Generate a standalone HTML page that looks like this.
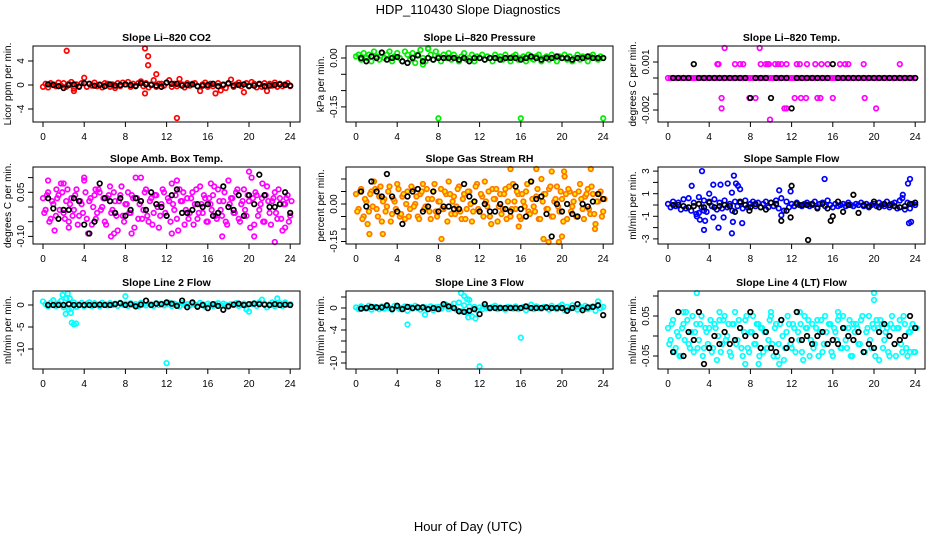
<!DOCTYPE html>
<html><head><meta charset="utf-8">
<style>
body{margin:0;background:#fff;}
svg{display:block;font-family:"Liberation Sans",Helvetica,sans-serif;}
</style></head>
<body>
<svg id="chart" width="936" height="540" viewBox="0 0 936 540" xmlns="http://www.w3.org/2000/svg">
<rect width="936" height="540" fill="#fff"/>
<text x="468" y="14" text-anchor="middle" font-size="13">HDP_110430  Slope Diagnostics</text>
<text x="468" y="531" text-anchor="middle" font-size="13">Hour of Day (UTC)</text>
<g id="panels"></g>
</svg>
<script>
const hoursC=[0,0.25,0.5,0.75,1,1.25,1.5,1.75,2,2.25,2.5,2.75,3,3.25,3.5,3.75,4,4.25,4.5,4.75,5,5.25,5.5,5.75,6,6.25,6.5,6.75,7,7.25,7.5,7.75,8,8.25,8.5,8.75,9,9.25,9.5,9.75,10,10.25,10.5,10.75,11,11.25,11.5,11.75,12,12.25,12.5,12.75,13,13.25,13.5,13.75,14,14.25,14.5,14.75,15,15.25,15.5,15.75,16,16.25,16.5,16.75,17,17.25,17.5,17.75,18,18.25,18.5,18.75,19,19.25,19.5,19.75,20,20.25,20.5,20.75,21,21.25,21.5,21.75,22,22.25,22.5,22.75,23,23.25,23.5,23.75,24];
const hoursB=[0.5,1,1.5,2,2.5,3,3.5,4,4.5,5,5.5,6,6.5,7,7.5,8,8.5,9,9.5,10,10.5,11,11.5,12,12.5,13,13.5,14,14.5,15,15.5,16,16.5,17,17.5,18,18.5,19,19.5,20,20.5,21,21.5,22,22.5,23,23.5,24];
const xTicks=[0,4,8,12,16,20,24];

// Panel 1: CO2
const co2Col=[-0.3,0.2,-0.4,0.3,0.1,-0.2,0.4,-0.1,0.3,-0.3,0.2,0.5,-0.6,0.1,-0.2,0.3,1.2,-0.3,0.2,-0.1,0.4,-0.2,0.1,-0.4,0.3,0.2,-0.3,0.1,-0.5,0.3,-0.2,0.4,0.1,0.5,-0.3,0.2,-0.1,0.3,0.6,-0.2,0.3,-0.4,0.1,0.8,-0.3,0.2,0.2,-0.1,0.4,0.8,-0.3,0.2,-0.2,1.0,0.1,-0.4,0.3,-0.1,0.2,0.3,-0.2,-1.0,0.1,0.4,-0.3,0.2,-0.2,-1.4,0.3,-0.9,0.1,-0.5,0.2,0.9,-0.3,0.1,0.4,-0.2,-1.2,0.3,-0.1,0.5,0.2,-0.4,0.1,-0.3,0.3,-1.0,0.2,-0.1,0.4,-0.3,0.2,-0.2,0.1,0.3,-0.2];
const co2OutH=[2.3,9.9,10.2,10.2,9.9,13.0,11.0,3.0];
const co2OutV=[5.7,6.1,4.8,3.3,-1.4,-5.5,1.8,-1.0];
const co2Blk=[0.1,0,-0.2,-0.5,0,0.1,-0.3,0.3,0.2,-0.1,0,-0.2,0.1,-0.1,0,0.1,0,-0.2,0.3,0.1,0,-0.1,-0.3,0.4,0.2,0.2,-0.1,0,0.1,-0.2,-0.1,0,0.2,-0.2,0,0.3,-0.1,0,0.1,-0.2,-0.1,0.2,-0.2,-0.1,0,0.1,0,-0.1];

// Panel 2: Pressure
const presCol=[0.005,0.01,-0.005,0.015,0.0,0.01,-0.01,0.02,0.005,-0.005,0.015,0.0,0.01,0.02,-0.01,0.005,0.015,0.0,-0.01,0.02,0.01,-0.005,0.015,-0.015,0.01,0.025,0.0,-0.01,0.03,0.01,-0.005,0.02,0.005,-0.01,0.01,0.0,0.015,-0.005,0.01,0.0,-0.01,0.005,0.015,-0.005,0.0,0.01,-0.01,0.005,0.0,0.01,-0.005,0.005,0.0,-0.01,0.01,0.0,0.005,-0.005,0.01,0.0,-0.01,0.005,0.01,-0.005,0.0,0.005,-0.01,0.01,0.0,-0.005,0.005,0.01,-0.01,0.0,0.005,-0.005,0.01,0.0,-0.01,0.005,0.0,0.01,-0.005,0.005,-0.01,0.0,0.01,-0.005,0.005,0.0,-0.01,0.005,0.01,0.0,-0.005,0.005,0.0];
const presOutH=[8.0,16.0,24.0,6.5,7.0];
const presOutV=[-0.185,-0.185,-0.185,-0.02,0.028];
const presBlk=[0.0,-0.01,0.005,0.0,0.017,-0.005,0.0,0.003,-0.01,-0.015,0.0,0.008,-0.01,0.0,-0.005,0.0,0.0,0.0,0.0,-0.005,0.0,-0.01,0.0,0.0,-0.005,0.0,0.0,-0.005,0.0,0.0,0.0,-0.005,0.0,0.005,0.0,-0.005,0.0,0.0,0.005,0.0,0.0,-0.005,0.0,0.0,0.005,0.0,0.0,0.0];

// Panel 3: Li-820 Temp
const tempCol=[0,0,0,0,0,0,0,0,0,0,0,0,0,0,0,0,0,0,0,0,0,0,0,0,0,0,0,0,0,0,0,0,0,0,0,0,0,0,0,0,0,0,0,0,0,0,0,0,0,0,0,0,0,0,0,0,0,0,0,0,0,0,0,0,0,0,0,0,0,0,0,0,0,0,0,0,0,0,0,0,0,0,0,0,0,0,0,0,0,0,0,0,0,0,0,0,0];
const tempOutH=[4.8,4.9,6.5,7.0,7.3,9.0,9.5,9.7,9.8,10.4,10.7,11.0,11.5,12.5,12.8,13.5,14.3,14.9,15.5,16.7,17.2,17.5,19.0,22.5,5.2,7.9,8.5,12.3,12.9,13.4,14.5,14.8,16.0,19.1,5.2,11.3,11.5,20.2,5.5,8.9,9.9];
const tempOutV=[0.00087,0.00087,0.00087,0.00087,0.00087,0.00087,0.00087,0.00087,0.00087,0.00087,0.00087,0.00087,0.00087,0.00087,0.00087,0.00087,0.00087,0.00087,0.00087,0.00087,0.00087,0.00087,0.00087,0.00087,-0.00125,-0.00125,-0.00125,-0.00125,-0.00125,-0.00125,-0.00125,-0.00125,-0.00125,-0.00125,-0.0019,-0.0019,-0.0019,-0.0019,0.0019,0.0019,-0.0026];
const tempBlk=[0,0,0,0,0.00087,0,0,0,0,0,0,0,0,0,0,-0.00125,0,0,0,-0.00125,0,0,0,-0.0019,0,0,0,0,0,0,0,0.00087,0,0,0,0,0,0,0,0,0,0,0,0,0,0,0,0];

// Panel 4: Amb Box Temp
const ambCol=[0.03,-0.01,0.05,-0.04,0.01,-0.03,0.04,0.08,-0.02,0.02,-0.05,0.03,-0.01,0.06,-0.03,0.01,0.09,-0.04,0.02,-0.06,0.04,-0.02,0.05,0.00,-0.05,0.03,0.07,-0.01,0.02,-0.08,0.04,-0.03,0.01,0.05,-0.02,0.03,0.10,-0.04,0.02,-0.01,0.06,-0.05,0.03,-0.02,0.04,-0.07,0.01,0.05,-0.03,0.02,0.08,-0.01,-0.04,0.06,0.02,-0.06,0.03,-0.02,0.05,0.01,-0.04,0.07,-0.02,0.03,-0.05,0.01,0.04,-0.03,0.06,-0.01,0.02,-0.05,0.09,0.03,-0.02,0.05,-0.04,0.01,0.06,-0.03,0.02,0.10,-0.06,0.04,-0.01,0.03,-0.05,0.07,-0.02,0.02,0.05,-0.04,0.03,-0.08,0.01,0.04,-0.03];
const ambCol2=[-0.02,0.04,-0.05,0.02,-0.08,0.03,-0.01,0.05,-0.04,0.06,0.01,-0.03,0.04,-0.06,0.02,-0.02,0.05,-0.09,0.03,0.00,-0.04,0.06,-0.01,0.03,-0.06,0.04,-0.02,0.05,-0.03,0.02,0.07,-0.05,0.01,-0.02,0.04,-0.07,0.03,0.01,-0.04,0.05,-0.03,0.02,-0.06,0.04,0.00,-0.03,0.06,-0.02,0.03,-0.05,0.01,0.04,-0.08,0.02,0.05,-0.01,-0.04,0.03,-0.06,0.06,-0.02,0.01,0.04,-0.05,0.03,-0.01,0.07,-0.04,0.02,-0.03,0.05,-0.06,0.01,0.03,-0.02,0.06,-0.05,0.02,-0.01,0.04,-0.07,0.03,0.05,-0.03,0.01,-0.05,0.04,0.02,-0.06,0.03,-0.02,0.06,-0.04,0.01,0.03,-0.05,0.02];
const ambOutH=[0.5,1.3,2.0,2.5,4.0,5.1,6.6,6.9,8.6,9.5,12.5,13.0,16.3,17.4,20.0,20.5,21.3,22.5,23.5];
const ambOutV=[0.09,0.06,0.08,-0.07,0.10,0.06,-0.10,-0.09,-0.09,0.10,-0.09,0.09,0.08,-0.10,0.12,-0.10,0.08,-0.12,-0.07];
const ambBlk=[0.03,-0.005,-0.04,-0.01,-0.01,0.03,0.02,-0.06,-0.09,-0.05,0.08,0.03,0.02,-0.02,0.03,-0.03,-0.01,0.03,0.02,-0.01,0.05,0.01,0.00,-0.03,0.04,0.06,-0.02,-0.02,-0.01,0.01,0.00,0.01,-0.03,-0.02,0.07,0.00,-0.01,0.04,-0.03,0.04,0.01,0.11,0.04,0.00,0.00,0.01,0.05,-0.02];

// Panel 5: Gas Stream RH
const rhCol=[0.04,-0.02,0.06,-0.05,0.01,-0.03,0.05,0.09,-0.02,0.03,-0.07,0.02,-0.01,0.07,-0.04,0.01,0.08,-0.05,0.03,-0.06,0.05,-0.02,0.06,0.00,-0.05,0.04,0.08,-0.01,0.02,-0.06,0.05,-0.03,0.01,0.06,-0.02,0.04,0.09,-0.04,0.03,-0.01,0.07,-0.06,0.04,-0.02,0.05,-0.07,0.01,0.08,-0.03,0.03,0.09,-0.01,-0.05,0.06,0.02,-0.07,0.04,-0.02,0.06,0.01,-0.05,0.08,-0.02,0.04,-0.06,0.01,0.05,-0.03,0.09,-0.01,0.03,-0.06,0.10,0.04,-0.02,0.06,-0.05,0.01,0.07,-0.03,0.02,0.11,-0.06,0.05,-0.01,0.04,-0.05,0.08,-0.02,0.03,0.06,-0.04,0.04,-0.08,0.01,0.05,-0.03];
const rhCol2=[-0.03,0.05,-0.06,0.02,-0.08,0.04,-0.01,0.06,-0.05,0.07,0.01,-0.03,0.05,-0.07,0.02,-0.02,0.06,-0.04,0.04,0.00,-0.05,0.07,-0.01,0.03,-0.06,0.05,-0.02,0.06,-0.03,0.02,0.08,-0.05,0.01,-0.02,0.05,-0.07,0.04,0.01,-0.04,0.06,-0.03,0.02,-0.06,0.05,0.00,-0.03,0.07,-0.02,0.04,-0.05,0.01,0.05,-0.08,0.02,0.06,-0.01,-0.04,0.04,-0.06,0.07,-0.02,0.01,0.05,-0.05,0.04,-0.01,0.08,-0.04,0.02,-0.03,0.06,-0.06,0.01,0.04,-0.02,0.07,-0.05,0.02,-0.01,0.05,-0.07,0.04,0.06,-0.03,0.01,-0.05,0.05,0.02,-0.06,0.04,-0.02,0.07,-0.04,0.01,0.04,-0.05,0.02];
const rhOutH=[1.3,2.6,8.3,15.8,17.5,18.2,18.7,19.7,20.0,20.2,22.8,23.2,15.0,19.0];
const rhOutV=[-0.12,-0.12,-0.14,-0.09,0.15,-0.14,-0.17,-0.16,-0.13,0.13,0.15,-0.10,0.15,0.13];
const rhBlk=[0.05,-0.01,0.09,0.05,0.03,0.12,0.03,-0.03,-0.08,0.03,0.05,0.06,-0.03,-0.01,0.05,-0.03,-0.01,-0.01,-0.02,-0.02,0.08,0.03,0.01,-0.03,0.00,-0.03,-0.03,0.00,-0.02,-0.03,0.07,-0.02,-0.05,0.09,0.02,0.03,-0.04,-0.13,0.00,-0.03,0.00,-0.04,-0.05,0.00,-0.01,0.01,0.04,0.02];

// Panel 6: Sample Flow
const sfCol=[0.1,-0.2,0.3,-0.1,0.2,-0.4,0.5,-0.3,0.6,-0.5,0.2,-0.8,0.7,-0.2,0.4,-0.6,0.3,-0.1,0.5,-0.4,0.2,-0.3,0.4,-0.2,0.1,-0.5,0.3,-0.1,0.2,-0.3,0.4,-0.2,0.1,0.3,-0.1,0.2,-0.2,0.1,0.3,-0.2,0.2,-0.1,0.4,-0.3,0.6,-0.5,0.3,-0.2,0.1,-0.1,0.2,0.0,-0.1,0.1,0.2,-0.1,0.0,0.3,-0.2,0.1,0.2,-0.1,0.4,0.0,-0.2,0.1,-0.1,0.0,0.1,-0.1,0.2,0.0,-0.1,0.1,0.0,0.2,-0.1,0.1,-0.2,0.0,0.1,-0.1,0.2,0.0,-0.1,0.3,-0.2,0.1,0.2,-0.3,0.4,0.6,-0.4,0.2,-0.3,0.1,0.0];
const sfOutH=[2.3,3.3,3.5,3.6,4.0,4.4,4.4,5.1,5.4,5.8,6.2,6.4,6.6,6.8,6.3,6.2,7.0,7.2,4.9,3.0,3.5,10.8,11.0,11.9,15.2,23.3,23.5,23.6,23.4,22.8,2.8,3.1];
const sfOutV=[1.7,3.0,-2.2,-1.4,1.0,1.8,-1.1,1.8,-1.1,1.9,1.1,2.6,1.9,1.7,-1.5,-2.5,1.4,-1.6,-2.0,-0.7,-0.5,1.3,-0.9,1.2,2.3,1.9,2.3,-1.5,-1.6,0.9,-1.0,-1.3];
const sfBlk=[0.0,0.0,-0.1,-0.2,-0.1,0.1,-0.2,0.2,-0.2,-0.1,0.0,-0.1,-0.6,0.3,0.0,-0.2,0.1,-0.2,-0.4,0.2,0.1,-1.4,-0.5,1.7,0.1,0.0,0.0,0.1,-0.3,0.1,-0.3,-1.0,0.3,-0.6,0.0,0.9,-0.7,0.0,-0.1,0.3,-0.2,0.1,0.0,-0.1,-0.2,-0.1,0.1,0.2];
const sfBOutH=[13.6,15.8,11.9,7.9];
const sfBOutV=[-3.1,-1.4,-1.1,-0.5];

// Panel 7: Line 2 Flow
const l2Col=[0.8,0.2,-0.3,0.5,1.1,-0.2,0.4,0.9,-0.5,1.5,0.3,-0.8,0.6,-0.4,0.2,0.5,-0.3,0.3,0.6,-0.2,0.4,0.1,-0.3,0.5,0.2,-0.1,0.4,0.0,0.3,-0.2,0.5,0.1,0.3,-0.2,0.4,0.0,0.2,-0.3,0.5,0.1,-0.1,0.3,0.2,-0.2,0.4,0.0,0.3,-0.1,0.2,0.5,-0.2,0.3,0.1,-0.3,0.4,0.0,0.2,-0.1,0.3,0.1,-0.2,0.5,0.2,-0.4,0.3,0.0,-0.2,0.2,0.4,-0.1,0.3,0.1,-0.3,0.2,0.0,0.4,-0.2,0.1,0.3,-1.0,-1.5,0.2,0.4,-0.2,0.6,1.2,0.3,-0.5,0.2,0.6,-0.3,1.5,0.4,-0.2,0.6,0.1,0.2];
const l2OutH=[1.9,2.4,2.2,2.7,2.8,3.0,3.2,2.5,8.0,12.0,2.6];
const l2OutV=[2.3,2.6,-2.0,-1.8,-4.0,-4.4,-4.2,-1.0,2.0,-13.2,1.5];
const l2Blk=[0.0,0.0,0.0,0.0,0.2,0.0,0.0,0.0,0.0,0.0,0.1,0.0,0.0,0.2,0.4,0.0,0.2,-0.3,0.1,1.0,0.0,0.3,0.2,0.6,0.3,-0.2,1.0,-0.5,0.6,-0.4,0.0,-0.7,0.2,-0.2,-1.1,-0.3,0.1,0.3,0.0,0.2,0.3,0.2,0.1,0.0,0.2,0.0,0.1,0.0];

// Panel 8: Line 3 Flow
const l3Col=[0.1,-0.2,0.3,0.0,-0.1,0.4,-0.3,0.2,0.1,-0.2,0.3,-0.1,0.2,0.0,-0.3,0.4,0.1,-0.2,0.0,0.3,-0.5,0.2,-0.1,0.4,0.0,-0.3,0.2,0.1,-0.2,0.3,-0.4,0.1,0.2,-0.1,0.4,0.6,-0.2,0.3,0.8,-0.3,1.0,-0.6,0.5,-0.8,0.3,-1.5,0.2,-0.4,0.1,-0.2,0.3,0.0,-0.1,0.2,0.4,-0.2,0.1,0.0,-0.3,0.2,0.1,-0.1,0.3,-0.2,0.0,0.2,-0.4,0.1,0.6,-0.2,0.3,0.0,-0.1,0.2,0.1,-0.3,0.4,0.0,-0.2,0.3,0.6,-0.4,0.2,-0.1,0.5,0.1,-0.3,0.2,0.0,0.4,-0.2,0.1,0.3,-0.5,1.2,0.0,0.2];
const l3OutH=[5.0,10.2,10.5,10.8,11.0,10.9,11.6,16.0,12.0,6.7,1.0];
const l3OutV=[-3.0,2.8,2.2,1.6,1.5,-1.7,-1.9,-5.4,-10.6,-1.2,0.0];
const l3Blk=[-0.1,0.0,0.2,0.1,0.1,0.5,-0.2,0.4,-0.2,0.2,0.0,0.1,0.1,-0.2,0.0,-0.2,0.7,0.3,0.0,-0.6,-0.7,-0.5,-0.2,-1.1,0.7,0.0,0.0,0.0,0.0,0.0,0.0,0.0,0.3,0.0,0.0,0.0,0.1,0.0,0.0,0.0,-0.5,0.0,0.7,-0.4,0.1,0.2,0.5,-1.3];

// Panel 9: Line 4 (LT) Flow
const l4Col=[0.02,-0.01,0.04,-0.03,0.00,-0.05,0.03,0.06,-0.02,0.01,-0.04,0.03,-0.01,0.05,-0.03,0.01,0.02,-0.04,0.03,-0.06,0.04,-0.02,0.05,0.00,-0.04,0.03,0.06,-0.01,0.02,-0.05,0.04,-0.03,0.01,0.05,-0.02,0.03,0.02,-0.04,0.01,-0.01,0.05,-0.05,0.03,-0.02,0.04,-0.06,0.01,0.03,-0.03,0.02,0.06,-0.01,-0.04,0.05,0.02,-0.05,0.03,-0.02,0.04,0.01,-0.04,0.05,-0.02,0.03,-0.05,0.01,0.04,-0.03,0.05,-0.01,0.02,-0.05,0.03,0.03,-0.02,0.04,-0.04,0.01,0.05,-0.03,0.02,0.04,-0.06,0.03,-0.01,0.02,-0.05,0.05,-0.02,0.02,0.04,-0.04,0.03,-0.05,0.01,0.03,-0.04];
const l4Col2=[-0.02,0.03,-0.04,0.01,-0.05,0.02,-0.01,0.04,-0.03,0.05,0.01,-0.03,0.03,-0.05,0.02,-0.02,0.04,-0.03,0.02,0.00,-0.04,0.04,-0.01,0.03,-0.05,0.03,-0.02,0.04,-0.03,0.01,0.05,-0.04,0.01,-0.02,0.03,-0.05,0.02,0.01,-0.03,0.04,-0.02,0.02,-0.05,0.03,0.00,-0.03,0.05,-0.02,0.03,-0.04,0.01,0.03,-0.06,0.02,0.04,-0.01,-0.03,0.02,-0.05,0.04,-0.02,0.01,0.03,-0.04,0.02,-0.01,0.05,-0.03,0.02,-0.03,0.04,-0.05,0.01,0.02,-0.02,0.05,-0.04,0.02,-0.01,0.03,-0.05,0.02,0.04,-0.03,0.01,-0.04,0.03,0.02,-0.05,0.02,-0.02,0.05,-0.03,0.01,0.02,-0.04,0.02];
const l4OutH=[2.8,1.5,5.0,7.5,8.8,10.8,10.0,12.8,20.0,20.0,23.5,16.5];
const l4OutV=[0.11,0.06,0.06,-0.07,-0.07,-0.07,0.06,0.06,0.11,0.09,-0.04,0.06];
const l4Blk=[-0.04,0.06,-0.05,0.01,-0.01,0.06,-0.07,-0.03,0.00,-0.02,0.01,-0.02,-0.01,0.02,0.00,0.06,0.00,-0.03,0.01,-0.03,-0.04,0.04,-0.03,-0.01,0.06,-0.01,0.00,-0.02,0.00,0.01,-0.02,-0.01,-0.02,0.02,0.00,-0.01,0.01,-0.04,-0.02,-0.03,0.01,0.03,0.00,-0.02,-0.01,0.00,0.05,0.02];

const panels=[
 {name:'co2',title:'Slope Li\u2013820 CO2',ylab:'Licor ppm per min.',col:'#ff0000',fill:'none',c:0,r:0,y0:85,k:6,ticks:[-4,0,4],labs:['-4','0','4'],cv:co2Col,c2:null,oh:co2OutH,ov:co2OutV,bv:co2Blk,boh:[],bov:[]},
 {name:'pressure',title:'Slope Li\u2013820 Pressure',ylab:'kPa per min.',col:'#00ee00',fill:'none',c:1,r:0,y0:58,k:326,ticks:[0,-0.05,-0.10,-0.15],labs:['0.00','','','-0.15'],cv:presCol,c2:null,oh:presOutH,ov:presOutV,bv:presBlk,boh:[],bov:[]},
 {name:'li820-temp',title:'Slope Li\u2013820 Temp.',ylab:'degrees C per min.',col:'#ff00ff',fill:'none',c:2,r:0,y0:78,k:16000,ticks:[0.001,0,-0.001,-0.002],labs:['0.001','','','-0.002'],cv:tempCol,c2:null,oh:tempOutH,ov:tempOutV,bv:tempBlk,boh:[],bov:[]},
 {name:'amb-box-temp',title:'Slope Amb. Box Temp.',ylab:'degrees C per min.',col:'#ff00ff',fill:'none',c:0,r:1,y0:207,k:294,ticks:[0.10,0.05,0,-0.05,-0.10],labs:['','0.05','','','-0.10'],cv:ambCol,c2:ambCol2,oh:ambOutH,ov:ambOutV,bv:ambBlk,boh:[],bov:[]},
 {name:'gas-stream-rh',title:'Slope Gas Stream RH',ylab:'percent per min.',col:'#ff7700',fill:'#ffee00',c:1,r:1,y0:204,k:250,ticks:[0.10,0.05,0,-0.05,-0.10,-0.15],labs:['','','0.00','','','-0.15'],cv:rhCol,c2:rhCol2,oh:rhOutH,ov:rhOutV,bv:rhBlk,boh:[],bov:[]},
 {name:'sample-flow',title:'Slope Sample Flow',ylab:'ml/min per min.',col:'#0000ff',fill:'none',c:2,r:1,y0:205,k:11.3,ticks:[3,2,1,0,-1,-2,-3],labs:['3','','1','','-1','','-3'],cv:sfCol,c2:null,oh:sfOutH,ov:sfOutV,bv:sfBlk,boh:sfBOutH,bov:sfBOutV},
 {name:'line2-flow',title:'Slope Line 2 Flow',ylab:'ml/min per min.',col:'#00ffff',fill:'none',c:0,r:2,y0:305,k:4.4,ticks:[0,-5,-10],labs:['0','-5','-10'],cv:l2Col,c2:null,oh:l2OutH,ov:l2OutV,bv:l2Blk,boh:[],bov:[]},
 {name:'line3-flow',title:'Slope Line 3 Flow',ylab:'ml/min per min.',col:'#00ffff',fill:'none',c:1,r:2,y0:308,k:5.5,ticks:[2,0,-2,-4,-6,-8,-10],labs:['','0','','-4','','','-10'],cv:l3Col,c2:null,oh:l3OutH,ov:l3OutV,bv:l3Blk,boh:[],bov:[]},
 {name:'line4-flow',title:'Slope Line 4 (LT) Flow',ylab:'ml/min per min.',col:'#00ffff',fill:'none',c:2,r:2,y0:336,k:400,ticks:[0.10,0.05,0,-0.05],labs:['','0.05','','-0.05'],cv:l4Col,c2:l4Col2,oh:l4OutH,ov:l4OutV,bv:l4Blk,boh:[],bov:[]}
];
const colX0=[43,356,668];
const rowBox=[[46,122],[167,244],[291,369]];
const PX=10.3;
const NS='http://www.w3.org/2000/svg';
const root=document.getElementById('panels');
function mk(tag,attrs,parent){const e=document.createElementNS(NS,tag);for(const a in attrs)e.setAttribute(a,attrs[a]);parent.appendChild(e);return e;}

panels.forEach(p=>{
  const x0=colX0[p.c],top=rowBox[p.r][0],bot=rowBox[p.r][1];
  const L=x0-10,R=x0+257;
  const xs=h=>x0+h*PX;
  const ys=v=>Math.max(top+2,Math.min(bot-2,p.y0-v*p.k));
  const g=mk('g',{},root);
  
  
  const clip=mk('g',{},g);
  
  
  function pt(h,v,stroke,fill,cls){
    const c=mk('circle',{cx:xs(h).toFixed(1),cy:ys(v).toFixed(1),r:2.3,fill:fill,stroke:stroke,'stroke-width':1.7},clip);
    
    
  }
  for(let i=0;i<Math.min(hoursC.length,p.cv.length);i++) pt(hoursC[i],p.cv[i],p.col,p.fill,'point-'+p.name);
  if(p.c2) for(let i=0;i<Math.min(hoursC.length,p.c2.length);i++) pt(hoursC[i]+0.125,p.c2[i],p.col,p.fill,'point-'+p.name);
  for(let i=0;i<Math.min(p.oh.length,p.ov.length);i++) pt(p.oh[i],p.ov[i],p.col,p.fill,'outlier-'+p.name);
  for(let i=0;i<Math.min(hoursB.length,p.bv.length);i++) pt(hoursB[i],p.bv[i],'#000','none','reference-point-'+p.name);
  for(let i=0;i<Math.min(p.boh.length,p.bov.length);i++) pt(p.boh[i],p.bov[i],'#000','none','reference-point-'+p.name);
  const box=mk('rect',{x:L,y:top,width:R-L,height:bot-top,fill:'none',stroke:'#000','stroke-width':1},g);
  
  
  const t=mk('text',{x:(L+R)/2,y:top-5,'text-anchor':'middle','font-size':10.5,'font-weight':'bold'},g);
  t.textContent=p.title;
  
  
  const xa=mk('g',{},g);
  
  
  mk('line',{x1:xs(0),x2:xs(24),y1:bot,y2:bot,stroke:'#000'},xa);
  xTicks.forEach(v=>{
    mk('line',{x1:xs(v),x2:xs(v),y1:bot,y2:bot+5,stroke:'#000'},xa);
    const tl=mk('text',{x:xs(v),y:bot+18,'text-anchor':'middle','font-size':10},xa);
    tl.textContent=v;
    
    
  });
  const ya=mk('g',{},g);
  
  
  const tp=p.ticks.map(v=>p.y0-v*p.k);
  mk('line',{x1:L,x2:L,y1:Math.min(...tp),y2:Math.max(...tp),stroke:'#000'},ya);
  p.ticks.forEach((v,i)=>{
    const y=p.y0-v*p.k;
    mk('line',{x1:L-5,x2:L,y1:y,y2:y,stroke:'#000'},ya);
    if(p.labs[i]){
      const tl=mk('text',{x:L-9,y:y,'text-anchor':'middle','font-size':10,transform:`rotate(-90 ${L-9} ${y})`},ya);
      tl.textContent=p.labs[i];
      
      
    }
  });
  const yl=mk('text',{x:L-22,y:(top+bot)/2,'text-anchor':'middle','font-size':10,transform:`rotate(-90 ${L-22} ${(top+bot)/2})`},g);
  yl.textContent=p.ylab;
  
  
});
</script>
</body></html>
